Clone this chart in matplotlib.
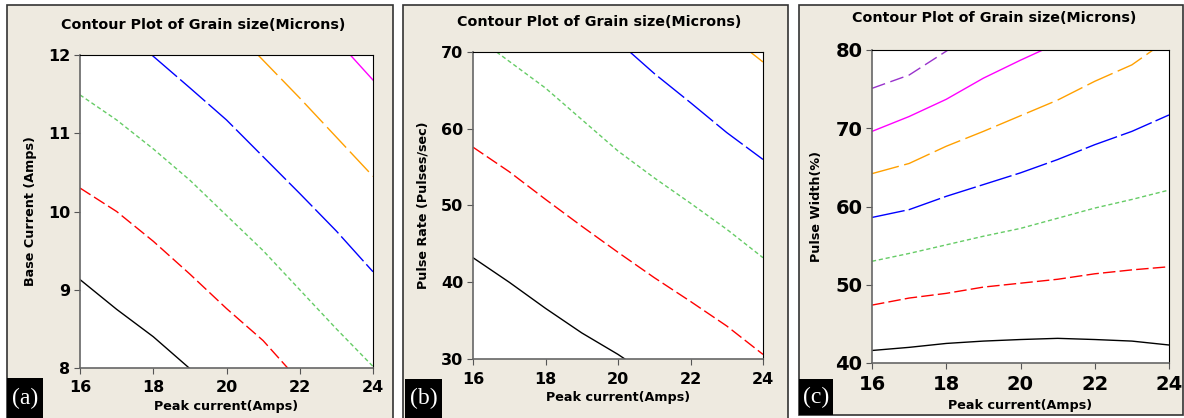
import matplotlib.pyplot as plt
from matplotlib.patches import Rectangle

# Contour lines (x = peak current, y = second factor)
# Panel (a): Base current vs peak current
a_black_x = [16, 17, 18, 18.98]
a_black_y = [9.13, 8.75, 8.40, 8.0]
a_red_x = [16, 17, 18, 19, 20, 21, 21.67]
a_red_y = [10.30, 10.0, 9.62, 9.2, 8.76, 8.35, 8.0]
a_green_x = [16, 17, 18, 19, 20, 21, 22, 23, 24]
a_green_y = [11.49, 11.17, 10.80, 10.40, 9.95, 9.50, 9.00, 8.50, 8.02]
a_blue_x = [17.96, 19, 20, 21, 22, 23, 24]
a_blue_y = [12.0, 11.58, 11.17, 10.70, 10.23, 9.75, 9.23]
a_orange_x = [20.86, 22, 23, 24]
a_orange_y = [12.0, 11.45, 10.95, 10.45]
a_magenta_x = [23.38, 24]
a_magenta_y = [12.0, 11.68]

# Panel (b): Pulse rate vs peak current
b_black_x = [16, 17, 18, 19, 20, 20.19]
b_black_y = [43.2, 40.0, 36.6, 33.4, 30.6, 30.0]
b_red_x = [16, 17, 18, 19, 20, 21, 22, 23, 24]
b_red_y = [57.6, 54.4, 50.8, 47.3, 43.9, 40.6, 37.5, 34.3, 30.6]
b_green_x = [16.65, 18, 19, 20, 21, 22, 23, 24]
b_green_y = [70.0, 65.3, 61.2, 57.1, 53.6, 50.3, 46.9, 43.2]
b_blue_x = [20.33, 21, 22, 23, 24]
b_blue_y = [70.0, 67.2, 63.4, 59.5, 56.0]
b_orange_x = [23.65, 24]
b_orange_y = [70.0, 68.7]

# Panel (c): Pulse width vs peak current
c_black_x = [16, 17, 18, 19, 20, 21, 22, 23, 24]
c_black_y = [41.6, 42.0, 42.5, 42.8, 43.0, 43.15, 43.0, 42.8, 42.3]
c_red_x = [16, 17, 18, 19, 20, 21, 22, 23, 24]
c_red_y = [47.4, 48.3, 48.9, 49.7, 50.2, 50.7, 51.4, 51.9, 52.3]
c_green_x = [16, 17, 18, 19, 20, 21, 22, 23, 24]
c_green_y = [53.0, 54.0, 55.1, 56.2, 57.2, 58.5, 59.8, 60.9, 62.1]
c_blue_x = [16, 17, 18, 19, 20, 21, 22, 23, 24]
c_blue_y = [58.6, 59.6, 61.3, 62.8, 64.3, 66.0, 67.9, 69.6, 71.7]
c_orange_x = [16, 17, 18, 19, 20, 21, 22, 23, 23.57]
c_orange_y = [64.2, 65.5, 67.7, 69.6, 71.6, 73.6, 76.0, 78.1, 80.0]
c_magenta_x = [16, 17, 18, 19, 20, 20.6]
c_magenta_y = [69.6, 71.5, 73.7, 76.4, 78.7, 80.0]
c_purple_x = [16, 17, 18.05]
c_purple_y = [75.1, 76.8, 80.0]

x_ticks = [16, 18, 20, 22, 24]
a_yticks = [8, 9, 10, 11, 12]
b_yticks = [30, 40, 50, 60, 70]
c_yticks = [40, 50, 60, 70, 80]

title = 'Contour Plot of Grain size(Microns)'
x_label = 'Peak current(Amps)'
y_labels = ['Base Current (Amps)', 'Pulse Rate (Pulses/sec)', 'Pulse Width(%)']
panel_tags = ['(a)', '(b)', '(c)']

# line styles (Minitab-like)
STY = {
    'black': dict(color='black', ls='-'),
    'red': dict(color='#ff0000', dashes=(9, 3)),
    'green': dict(color='#66cc66', dashes=(3, 2)),
    'blue': dict(color='#0000ff', dashes=(24, 3)),
    'orange': dict(color='#ffa000', dashes=(20, 4)),
    'magenta': dict(color='#ff00ff', ls='-'),
    'purple': dict(color='#9933cc', dashes=(10, 4)),
}

W, H = 1184, 418
BG = '#eeeae0'
fig = plt.figure(figsize=(W / 100, H / 100), dpi=100, facecolor='white')


def px_rect(l, t, r, b):
    return [l / W, 1 - b / H, (r - l) / W, (b - t) / H]


# panel frames: (left, top, right, bottom) in pixels
frames = [(7, 5, 393, 420), (403, 5, 788, 420), (799, 5, 1183, 415)]
for l, t, r, b in frames:
    fig.patches.append(Rectangle((l / W, 1 - b / H), (r - l) / W, (b - t) / H,
                                 transform=fig.transFigure, facecolor=BG,
                                 edgecolor='#333333', lw=1.2, zorder=-2))

# tag boxes
tags = [(7, 378, 43, 418), (405, 379, 442, 418), (799, 379, 833, 415)]
for (l, t, r, b), tag in zip(tags, panel_tags):
    fig.patches.append(Rectangle((l / W, 1 - b / H), (r - l) / W, (b - t) / H,
                                 transform=fig.transFigure, facecolor='black',
                                 edgecolor='none', zorder=1))
    fig.text((l + r) / 2 / W, 1 - (t + b) / 2 / H, tag, color='white',
             family='Liberation Serif', fontsize=17, ha='center', va='center')

axes_px = [(80, 55, 373, 368), (473, 52, 763, 359), (872, 50, 1169, 363)]
panels = [
    ([(a_black_x, a_black_y, 'black'), (a_red_x, a_red_y, 'red'),
      (a_green_x, a_green_y, 'green'), (a_blue_x, a_blue_y, 'blue'),
      (a_orange_x, a_orange_y, 'orange'), (a_magenta_x, a_magenta_y, 'magenta')],
     a_yticks),
    ([(b_black_x, b_black_y, 'black'), (b_red_x, b_red_y, 'red'),
      (b_green_x, b_green_y, 'green'), (b_blue_x, b_blue_y, 'blue'),
      (b_orange_x, b_orange_y, 'orange')],
     b_yticks),
    ([(c_black_x, c_black_y, 'black'), (c_red_x, c_red_y, 'red'),
      (c_green_x, c_green_y, 'green'), (c_blue_x, c_blue_y, 'blue'),
      (c_orange_x, c_orange_y, 'orange'), (c_magenta_x, c_magenta_y, 'magenta'),
      (c_purple_x, c_purple_y, 'purple')],
     c_yticks),
]
title_y = [25, 22, 18]
tick_fs = [11.5, 11.5, 14]
ylab_pad = [8, 8, 9]

for i, ((lines, yticks), box) in enumerate(zip(panels, axes_px)):
    ax = fig.add_axes(px_rect(*box))
    ax.set_facecolor('white')
    for xs, ys, key in lines:
        ax.plot(xs, ys, lw=1.0, **STY[key])
    ax.set_xlim(16, 24)
    ax.set_ylim(yticks[0], yticks[-1])
    ax.set_xticks(x_ticks)
    ax.set_yticks(yticks)
    ax.tick_params(direction='out', length=4, width=0.8, color='#555555',
                   labelsize=tick_fs[i])
    ax.tick_params(axis='x', pad=5)
    ax.tick_params(axis='y', pad=3)
    for lab in ax.get_xticklabels() + ax.get_yticklabels():
        lab.set_fontweight('bold')
    ax.tick_params(top=False, right=False)
    for s in ['left', 'bottom']:
        ax.spines[s].set_color('#666666')
        ax.spines[s].set_linewidth(1.2)
    for s in ['top', 'right']:
        ax.spines[s].set_color('black')
        ax.spines[s].set_linewidth(0.8)
    ax.set_xlabel(x_label, fontsize=9.2, fontweight='bold', labelpad=3)
    ax.set_ylabel(y_labels[i], fontsize=9.2, fontweight='bold',
                  labelpad=ylab_pad[i])
    l, t, r, b = frames[i]
    fig.text((l + r) / 2 / W + 0.003, 1 - title_y[i] / H, title,
             fontsize=10.3, fontweight='bold', ha='center', va='center')

fig.savefig('out.png', dpi=100, facecolor='white')
